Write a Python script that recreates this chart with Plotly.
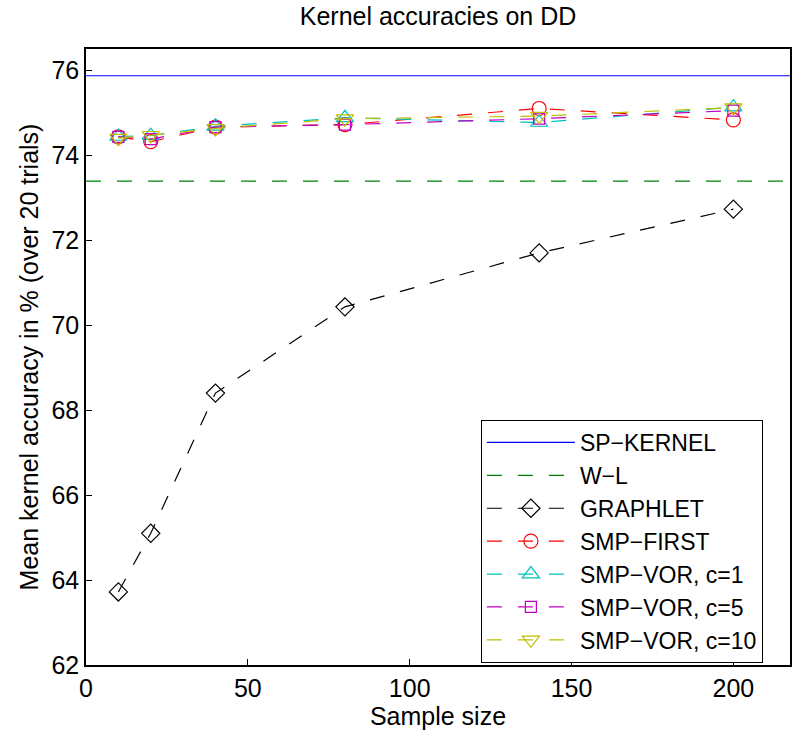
import plotly.graph_objects as go

# ---- data ----
sample_sizes = [10, 20, 40, 80, 140, 200]
sp_kernel = 75.87
wl = 73.39
graphlet = [63.72, 65.10, 68.40, 70.43, 71.70, 72.73]
smp_first = [74.43, 74.32, 74.66, 74.72, 75.10, 74.83]
smp_vor_c1 = [74.44, 74.46, 74.68, 74.88, 74.77, 75.13]
smp_vor_c5 = [74.43, 74.38, 74.66, 74.72, 74.86, 75.05]
smp_vor_c10 = [74.40, 74.47, 74.63, 74.86, 74.92, 75.12]

x_ticks = [0, 50, 100, 150, 200]
y_ticks = [62, 64, 66, 68, 70, 72, 74, 76]
x_range = [0, 217.5]
y_range = [62, 76.5]

FONT = "Liberation Sans, Arial, Helvetica, sans-serif"
FS = 25
LFS = 23
DASH = "15px,16px"

fig = go.Figure()

fig.add_trace(go.Scatter(
    x=x_range, y=[sp_kernel, sp_kernel], mode="lines", name="SP\u2212KERNEL",
    line=dict(color="rgb(0,0,255)", width=1.2)))
fig.add_trace(go.Scatter(
    x=x_range, y=[wl, wl], mode="lines", name="W\u2212L",
    line=dict(color="rgb(0,128,0)", width=1.2, dash=DASH)))

series = [
    ("GRAPHLET", graphlet, "black", "diamond-open", 14),
    ("SMP\u2212FIRST", smp_first, "rgb(255,0,0)", "circle-open", 14),
    ("SMP\u2212VOR, c=1", smp_vor_c1, "rgb(0,191,191)", "triangle-up-open", 15),
    ("SMP\u2212VOR, c=5", smp_vor_c5, "rgb(191,0,191)", "square-open", 11),
    ("SMP\u2212VOR, c=10", smp_vor_c10, "rgb(191,191,0)", "triangle-down-open", 15),
]
for name, ys, col, sym, sz in series:
    fig.add_trace(go.Scatter(
        x=sample_sizes, y=ys, mode="lines+markers", name=name,
        line=dict(color=col, width=1.2, dash=DASH),
        marker=dict(symbol=sym, size=sz, color=col, line=dict(color=col, width=1.2))))

axis_common = dict(
    showline=True, linecolor="black", linewidth=1.5, mirror=True,
    ticks="inside", ticklen=6, tickcolor="black", tickwidth=1,
    showgrid=False, zeroline=False,
    tickfont=dict(family=FONT, size=FS, color="black"),
)

fig.update_layout(
    width=792, height=738,
    margin=dict(l=86, r=0, t=49, b=73),
    paper_bgcolor="white", plot_bgcolor="white",
    font=dict(family=FONT, color="black"),
    title=dict(text="Kernel accuracies on DD", x=438 / 792,
               xanchor="center", y=1 - 16 / 738, yanchor="middle",
               font=dict(family=FONT, size=FS, color="black")),
    xaxis=dict(range=x_range, tickvals=x_ticks,
               title=dict(text="Sample size", font=dict(family=FONT, size=FS), standoff=3),
               **axis_common),
    yaxis=dict(range=y_range, tickvals=y_ticks,
               title=dict(text="Mean kernel accuracy in % (over 20 trials)",
                          font=dict(family=FONT, size=FS), standoff=6),
               **axis_common),
    showlegend=True,
    legend=dict(x=(482 - 86) / 706, y=(665 - 420) / 616, xanchor="left", yanchor="top",
                bgcolor="white", bordercolor="black", borderwidth=1,
                font=dict(family=FONT, size=LFS, color="black"),
                itemwidth=88, tracegroupgap=0),
)

fig.write_html("out.html")
